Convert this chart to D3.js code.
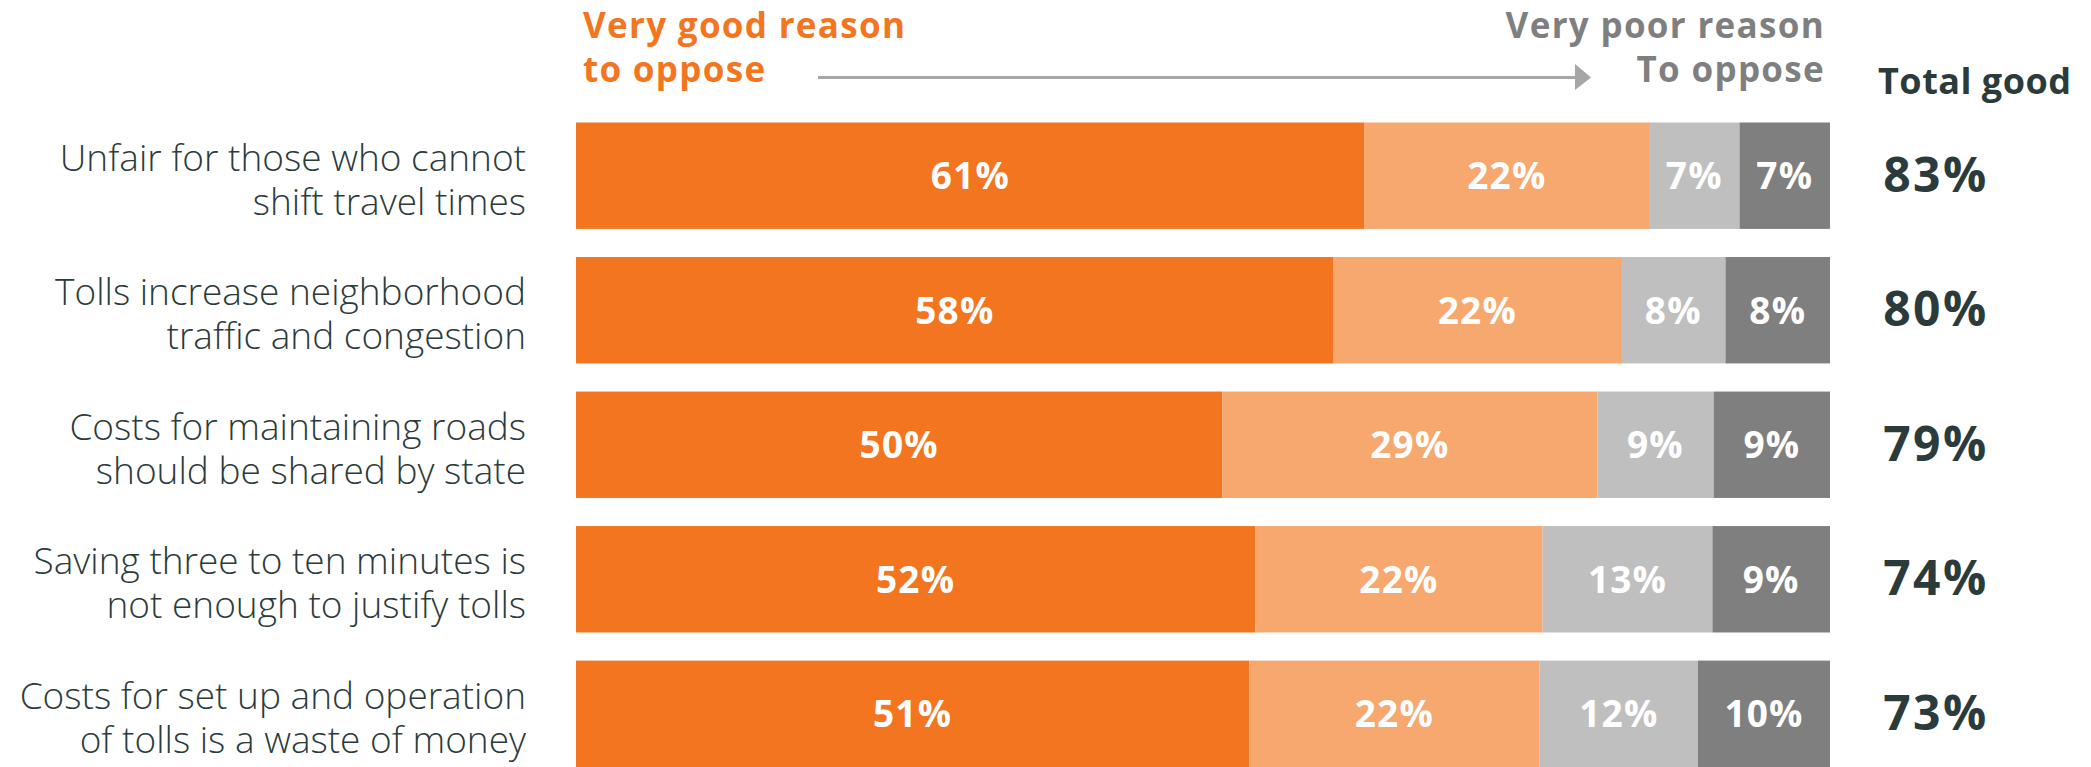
<!DOCTYPE html>
<html>
<head>
<meta charset="utf-8">
<script src="https://cdn.jsdelivr.net/npm/d3@7/dist/d3.min.js"></script>
<style>
  html, body { margin: 0; padding: 0; background: #ffffff; }
  svg { display: block; }
</style>
</head>
<body>
<svg id="chart" width="2091" height="767"></svg>
<script>
// ---- Data ----
const categories = [
  ["Unfair for those who cannot", "shift travel times"],
  ["Tolls increase neighborhood", "traffic and congestion"],
  ["Costs for maintaining roads", "should be shared by state"],
  ["Saving three to ten minutes is", "not enough to justify tolls"],
  ["Costs for set up and operation", "of tolls is a waste of money"]
];
const seriesNames = ["Very good", "Somewhat good", "Somewhat poor", "Very poor"];
const veryGood     = [61, 58, 50, 52, 51];
const somewhatGood = [22, 22, 29, 22, 22];
const somewhatPoor = [7, 8, 9, 13, 12];
const veryPoor     = [7, 8, 9, 9, 10];
const totalGood    = [83, 80, 79, 74, 73];
const headerLeft   = ["Very good reason", "to oppose"];
const headerRight  = ["Very poor reason", "To oppose"];
const totalHeader  = "Total good";

// ---- Styles ----
const colors = ["#F47520", "#F7A86E", "#BFBFBF", "#7F7F7F"];
const darkText = "#2B3B3B";
const font = "'Open Sans', 'Noto Sans', sans-serif";

const svg = d3.select("#chart");

const keys = categories.map((c, i) => "r" + i);
const rows = keys.map((k, i) => {
  const vals = [veryGood[i], somewhatGood[i], somewhatPoor[i], veryPoor[i]];
  const sum = d3.sum(vals);
  let acc = 0;
  const segs = vals.map((v, j) => {
    const s = { key: k, j, value: v, x0: acc / sum, x1: (acc + v) / sum };
    acc += v;
    return s;
  });
  return { key: k, label: categories[i], total: totalGood[i], segs };
});

const x = d3.scaleLinear().domain([0, 1]).range([576, 1830]);
const y = d3.scaleBand().domain(keys).range([122.5, 767]).paddingInner(0.209).paddingOuter(0);

// ---- Bars ----
const g = svg.append("g");
const rowG = g.selectAll("g.row").data(rows).join("g").attr("class", "row");

rowG.selectAll("rect").data(d => d.segs).join("rect")
  .attr("x", d => x(d.x0))
  .attr("width", d => x(d.x1) - x(d.x0))
  .attr("y", d => y(d.key))
  .attr("height", y.bandwidth())
  .attr("fill", d => colors[d.j]);

rowG.selectAll("text.val").data(d => d.segs).join("text")
  .attr("class", "val")
  .attr("x", d => (x(d.x0) + x(d.x1)) / 2)
  .attr("y", d => y(d.key) + y.bandwidth() / 2 + 13.5)
  .attr("text-anchor", "middle")
  .attr("font-family", font)
  .attr("font-weight", 700)
  .attr("font-size", 37)
  .attr("letter-spacing", 1.2)
  .attr("fill", "#ffffff")
  .text(d => d.value + "%");

// ---- Category labels ----
rowG.append("text")
  .attr("text-anchor", "end")
  .attr("font-family", font)
  .attr("font-weight", 300)
  .attr("font-size", 37)
  .attr("fill", darkText)
  .selectAll("tspan").data(d => d.label.map((t, li) => ({ t, li, key: d.key }))).join("tspan")
    .attr("x", 526)
    .attr("y", d => y(d.key) + y.bandwidth() / 2 - 5 + d.li * 44)
    .text(d => d.t);

// ---- Totals ----
rowG.append("text")
  .attr("x", 1936)
  .attr("y", d => y(d.key) + y.bandwidth() / 2 + 16)
  .attr("text-anchor", "middle")
  .attr("font-family", font)
  .attr("font-weight", 700)
  .attr("font-size", 48)
  .attr("letter-spacing", 2.5)
  .attr("fill", darkText)
  .text(d => d.total + "%");

// ---- Header ----
const hl = svg.append("text")
  .attr("font-family", font).attr("font-weight", 700).attr("font-size", 35)
  .attr("letter-spacing", 1.3)
  .attr("fill", "#F47520");
hl.selectAll("tspan").data(headerLeft).join("tspan")
  .attr("x", 583).attr("y", (d, i) => 37.5 + i * 44).text(d => d);

const hr = svg.append("text")
  .attr("font-family", font).attr("font-weight", 700).attr("font-size", 35)
  .attr("letter-spacing", 1.3)
  .attr("text-anchor", "end")
  .attr("fill", "#7F7F7F");
hr.selectAll("tspan").data(headerRight).join("tspan")
  .attr("x", 1825).attr("y", (d, i) => 37.5 + i * 44).text(d => d);

svg.append("text")
  .attr("x", 1878).attr("y", 94)
  .attr("font-family", font).attr("font-weight", 700).attr("font-size", 36)
  .attr("letter-spacing", 0.5)
  .attr("fill", darkText)
  .text(totalHeader);

// Arrow
svg.append("line")
  .attr("x1", 818).attr("x2", 1578).attr("y1", 77.5).attr("y2", 77.5)
  .attr("stroke", "#A6A6A6").attr("stroke-width", 3);
svg.append("path")
  .attr("d", "M1575,64 L1591,77.5 L1575,90 Z")
  .attr("fill", "#A6A6A6");
</script>
</body>
</html>
